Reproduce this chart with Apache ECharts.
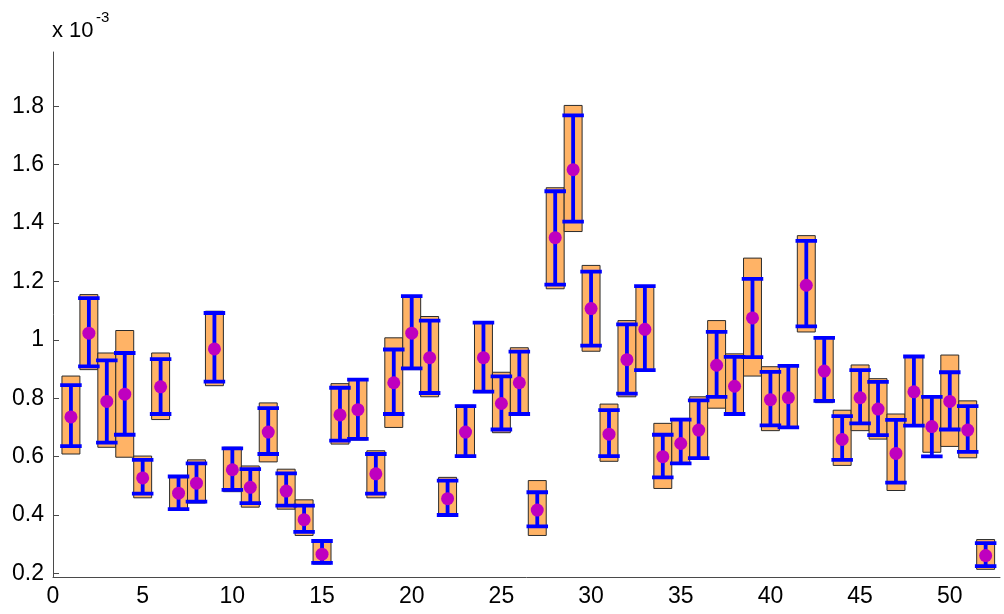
<!DOCTYPE html>
<html>
<head>
<meta charset="utf-8">
<script src="https://cdn.jsdelivr.net/npm/echarts@6/dist/echarts.min.js"></script>
<style>
html,body{margin:0;padding:0;background:#fff;}
#chart{width:1004px;height:614px;}
</style>
</head>
<body>
<div id="chart"></div>
<script>
// Values in units of 1e-3
const xIndex = [1,2,3,4,5,6,7,8,9,10,11,12,13,14,15,16,17,18,19,20,21,22,23,24,25,26,
                27,28,29,30,31,32,33,34,35,36,37,38,39,40,41,42,43,44,45,46,47,48,49,50,51,52];
const boxHigh = [0.876,1.155,0.955,1.032,0.602,0.955,0.534,0.589,1.098,0.632,0.568,0.784,0.557,0.452,0.314,0.850,0.866,0.620,1.007,1.152,1.080,0.529,0.776,1.061,0.889,0.973,
                 0.518,1.521,1.803,1.255,0.780,1.066,1.186,0.714,0.731,0.805,1.066,0.952,1.280,0.908,0.913,1.357,1.009,0.759,0.914,0.867,0.746,0.945,0.807,0.948,0.791,0.316];
const errHigh = [0.845,1.143,0.930,0.955,0.589,0.934,0.532,0.577,1.092,0.628,0.557,0.766,0.543,0.432,0.311,0.836,0.864,0.609,0.967,1.150,1.066,0.518,0.773,1.059,0.875,0.960,
                 0.478,1.509,1.769,1.234,0.759,1.053,1.184,0.675,0.727,0.793,1.027,0.942,1.209,0.890,0.911,1.339,1.007,0.739,0.896,0.856,0.726,0.943,0.805,0.889,0.773,0.304];
const meanVal = [0.736,1.023,0.789,0.814,0.527,0.839,0.475,0.509,0.969,0.555,0.495,0.684,0.482,0.384,0.266,0.743,0.761,0.541,0.853,1.023,0.939,0.456,0.684,0.939,0.782,0.853,
                 0.417,1.350,1.583,1.107,0.677,0.932,1.036,0.600,0.645,0.691,0.913,0.841,1.075,0.795,0.802,1.187,0.893,0.659,0.802,0.763,0.611,0.822,0.703,0.789,0.691,0.261];
const errLow  = [0.636,0.909,0.648,0.675,0.473,0.746,0.420,0.446,0.857,0.486,0.441,0.609,0.432,0.342,0.236,0.655,0.661,0.473,0.746,0.902,0.818,0.400,0.602,0.823,0.693,0.746,
                 0.361,1.189,1.405,0.980,0.602,0.816,0.896,0.529,0.577,0.595,0.805,0.746,0.941,0.707,0.700,1.046,0.791,0.589,0.714,0.674,0.511,0.706,0.601,0.693,0.616,0.225];
const boxLow  = [0.609,0.898,0.632,0.598,0.459,0.727,0.418,0.441,0.843,0.480,0.427,0.582,0.420,0.330,0.232,0.643,0.657,0.459,0.700,0.898,0.805,0.398,0.598,0.819,0.682,0.744,
                 0.330,1.175,1.371,0.961,0.584,0.805,0.894,0.491,0.575,0.592,0.766,0.743,0.876,0.689,0.698,1.027,0.785,0.570,0.689,0.660,0.484,0.704,0.615,0.635,0.596,0.214];
const yTickValues = [0.2,0.4,0.6,0.8,1.0,1.2,1.4,1.6,1.8];
const yTickLabels = ['0.2','0.4','0.6','0.8','1','1.2','1.4','1.6','1.8'];
const xTickValues = [0,5,10,15,20,25,30,35,40,45,50];
const exponentBase = 'x 10';
const exponentPower = '-3';

const boxData = xIndex.map((x, i) => [x, boxLow[i], boxHigh[i]]);
const errData = xIndex.map((x, i) => [x, errLow[i], errHigh[i]]);
const meanData = xIndex.map((x, i) => [x, meanVal[i]]);

const BOX_HALF = 0.5;
const CAP_HALF = 0.6;
const FONT = 'Liberation Sans, Arial, sans-serif';

function renderBox(params, api) {
  const x = api.value(0), lo = api.value(1), hi = api.value(2);
  const p1 = api.coord([x - BOX_HALF, hi]);
  const p2 = api.coord([x + BOX_HALF, lo]);
  return {
    type: 'rect',
    shape: {x: p1[0], y: p1[1], width: p2[0] - p1[0], height: p2[1] - p1[1]},
    style: {fill: '#FFB366', stroke: '#2b2b2b', lineWidth: 1}
  };
}
function renderErr(params, api) {
  const x = api.value(0), lo = api.value(1), hi = api.value(2);
  const top = api.coord([x, hi]);
  const bot = api.coord([x, lo]);
  const tl = api.coord([x - CAP_HALF, hi]);
  const tr = api.coord([x + CAP_HALF, hi]);
  const bl = api.coord([x - CAP_HALF, lo]);
  const br = api.coord([x + CAP_HALF, lo]);
  const st = {stroke: '#0000FF', lineWidth: 3.8};
  return {
    type: 'group',
    children: [
      {type: 'line', shape: {x1: top[0], y1: top[1], x2: bot[0], y2: bot[1]}, style: st},
      {type: 'line', shape: {x1: tl[0], y1: tl[1], x2: tr[0], y2: tr[1]}, style: st},
      {type: 'line', shape: {x1: bl[0], y1: bl[1], x2: br[0], y2: br[1]}, style: st}
    ]
  };
}

const chart = echarts.init(document.getElementById('chart'), null, {renderer: 'canvas'});
chart.setOption({
  animation: false,
  backgroundColor: '#ffffff',
  graphic: [
    {type: 'text', left: 52, top: 20, style: {text: exponentBase, font: '22px ' + FONT, fill: '#000'}},
    {type: 'text', left: 96, top: 10, style: {text: exponentPower, font: '15px ' + FONT, fill: '#000'}}
  ],
  grid: {left: 53, right: 4, top: 52, bottom: 36.5, containLabel: false},
  xAxis: {
    type: 'value',
    min: 0,
    max: 52.8,
    splitLine: {show: false},
    axisLine: {show: true, lineStyle: {color: '#4a4a4a', width: 1}},
    axisTick: {show: false},
    axisLabel: {
      customValues: xTickValues,
      color: '#000',
      fontSize: 23,
      fontFamily: FONT,
      margin: 8
    }
  },
  yAxis: {
    type: 'value',
    min: 0.186,
    max: 1.986,
    splitLine: {show: false},
    axisLine: {show: true, lineStyle: {color: '#4a4a4a', width: 1}},
    axisTick: {show: true, inside: true, length: 6, customValues: yTickValues, lineStyle: {color: '#4a4a4a'}},
    axisLabel: {
      customValues: yTickValues,
      color: '#000',
      fontSize: 23,
      fontFamily: FONT,
      margin: 9,
      formatter: function (v) {
        const i = yTickValues.findIndex(t => Math.abs(t - v) < 1e-9);
        return i >= 0 ? yTickLabels[i] : '';
      }
    }
  },
  series: [
    {type: 'custom', name: 'range', renderItem: renderBox, data: boxData, encode: {x: 0, y: [1, 2]}, clip: true, z: 1},
    {type: 'custom', name: 'error', renderItem: renderErr, data: errData, encode: {x: 0, y: [1, 2]}, clip: true, z: 2},
    {type: 'scatter', name: 'mean', data: meanData, symbol: 'circle', symbolSize: 13,
     itemStyle: {color: '#BF00BF', opacity: 1}, z: 3}
  ]
});
</script>
</body>
</html>
